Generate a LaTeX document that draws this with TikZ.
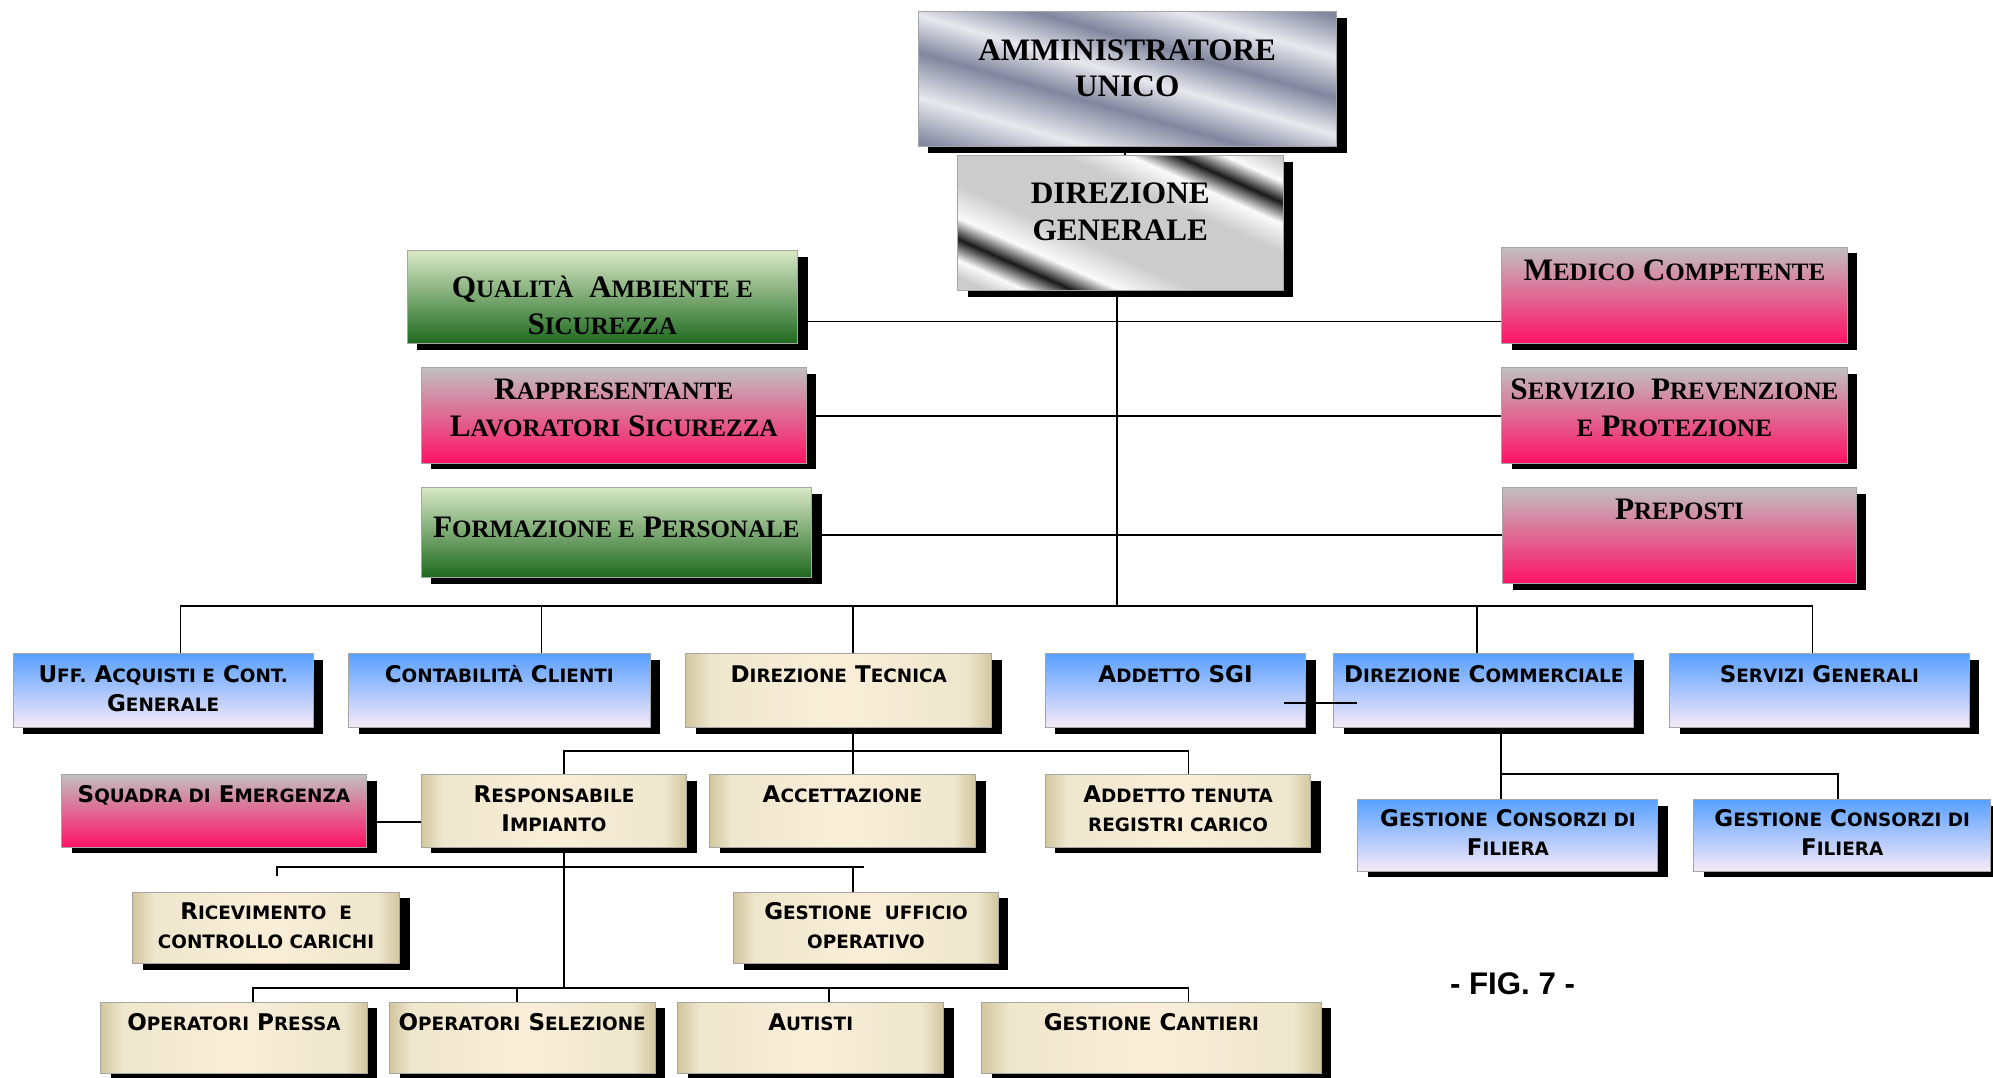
\documentclass[tikz,border=0pt]{standalone}
\usepackage{fontspec}
\setmainfont{Liberation Serif}
\newfontfamily\boxfont{DejaVu Sans}
\newfontfamily\figfont{Liberation Sans}
\usetikzlibrary{shadows,backgrounds}

\definecolor{blueT}{RGB}{88,160,255}
\definecolor{blueB}{RGB}{248,234,248}
\definecolor{pinkT}{RGB}{192,192,192}
\definecolor{pinkB}{RGB}{255,18,100}
\definecolor{greenT}{RGB}{216,232,198}
\definecolor{greenM}{RGB}{150,190,115}
\definecolor{greenB}{RGB}{30,105,30}
\definecolor{beigeE}{RGB}{210,198,158}
\definecolor{beigeM}{RGB}{238,230,205}
\definecolor{beigeC}{RGB}{250,238,216}
\definecolor{metD}{RGB}{128,134,158}
\definecolor{metL}{RGB}{232,232,238}
\definecolor{chrG}{RGB}{204,204,204}
\definecolor{chrW}{RGB}{250,250,250}
\definecolor{chrK}{RGB}{25,25,25}

\pgfdeclarehorizontalshading{beigesh}{100bp}{color(0bp)=(beigeE); color(25bp)=(beigeE); color(29bp)=(beigeM); color(50bp)=(beigeC); color(71bp)=(beigeM); color(75bp)=(beigeE); color(100bp)=(beigeE)}
\pgfdeclarehorizontalshading{metalsh}{100bp}{color(0bp)=(metL); color(20bp)=(metD); color(31bp)=(metL); color(42bp)=(metD); color(51bp)=(metL); color(60bp)=(metD); color(70bp)=(metL); color(80bp)=(metD); color(100bp)=(metL)}
\pgfdeclarehorizontalshading{chromesh}{100bp}{color(0bp)=(chrG); color(20bp)=(chrG); color(24bp)=(chrW); color(29bp)=(chrK); color(34bp)=(chrW); color(42bp)=(chrG); color(60bp)=(chrG); color(67bp)=(chrW); color(72bp)=(chrK); color(77bp)=(chrW); color(82bp)=(chrG); color(100bp)=(chrG)}

% one picture pixel
\newdimen\pxu \pxu=0.2mm
\newcommand{\sm}[1]{\scalebox{0.8}{#1}}
% width, height, first baseline, text
\newcommand{\boxtxt}[4]{\parbox[t][#2\pxu][t]{#1\pxu}{\centering\vspace*{\dimexpr#3\pxu-\baselineskip\relax}\prevdepth=0pt #4\par}}

\tikzset{
  orgbox/.style={draw=gray!70, line width=0.4pt, inner sep=0pt, anchor=north west,
    drop shadow={shadow xshift=1.6mm, shadow yshift=-1mm, opacity=1, fill=black}},
  serifbox/.style={orgbox, font=\bfseries\fontsize{14}{16.4}\selectfont},
  sansbox/.style={orgbox, font=\boxfont\bfseries\fontsize{10.3}{13}\selectfont},
  metalbox/.style={serifbox, shading=metalsh, shading angle=74},
  chromebox/.style={serifbox, shading=chromesh, shading angle=66},
  greenbox/.style={serifbox, top color=greenT, middle color=greenM, bottom color=greenB},
  pinkbox/.style={serifbox, top color=pinkT, bottom color=pinkB},
  pinksbox/.style={sansbox, top color=pinkT, bottom color=pinkB},
  bluebox/.style={sansbox, top color=blueT, bottom color=blueB},
  beigebox/.style={sansbox, shading=beigesh},
  conn/.style={draw=black, line width=0.8pt},
  figlabel/.style={font=\figfont\bfseries\fontsize{14}{16}\selectfont}
}

\begin{document}
\begin{tikzpicture}[x=0.2mm, y=-0.2mm]
\useasboundingbox (0,0) rectangle (1568,848);

% top
\node[metalbox] (amm) at (722,9) {\boxtxt{329}{106}{38}{AMMINISTRATORE\\UNICO}};
\node[chromebox] (dg) at (753,122) {\boxtxt{256}{106}{38}{DIREZIONE\\GENERALE}};

% staff
\node[greenbox] (qa) at (320,197) {\boxtxt{307}{73}{37}{Q\sm{UALITÀ}\ \ A\sm{MBIENTE E}\\S\sm{ICUREZZA}}};
\node[pinkbox] (rls) at (331,289) {\boxtxt{303}{75}{25}{R\sm{APPRESENTANTE}\\L\sm{AVORATORI} S\sm{ICUREZZA}}};
\node[greenbox] (fp) at (331,383) {\boxtxt{307}{71}{39.5}{F\sm{ORMAZIONE E} P\sm{ERSONALE}}};
\node[pinkbox] (mc) at (1181,194) {\boxtxt{272}{76}{26}{M\sm{EDICO} C\sm{OMPETENTE}}};
\node[pinkbox] (spp) at (1181,289) {\boxtxt{272}{75}{25}{S\sm{ERVIZIO}\ \ P\sm{REVENZIONE}\\\sm{E} P\sm{ROTEZIONE}}};
\node[pinkbox] (pre) at (1182,383) {\boxtxt{278}{76}{25}{P\sm{REPOSTI}}};

% second row
\node[bluebox] (uff) at (10,514) {\boxtxt{236}{58}{22.5}{U\sm{FF.} A\sm{CQUISTI E} C\sm{ONT.}\\G\sm{ENERALE}}};
\node[bluebox] (cc) at (274,514) {\boxtxt{237}{58}{22.5}{C\sm{ONTABILITÀ} C\sm{LIENTI}}};
\node[beigebox] (dt) at (539,514) {\boxtxt{241}{58}{22.5}{D\sm{IREZIONE} T\sm{ECNICA}}};
\node[bluebox] (sgi) at (822,514) {\boxtxt{205}{58}{22.5}{A\sm{DDETTO} SGI}};
\node[bluebox] (dc) at (1049,514) {\boxtxt{236}{58}{22.5}{D\sm{IREZIONE} C\sm{OMMERCIALE}}};
\node[bluebox] (sg) at (1313,514) {\boxtxt{236}{58}{22.5}{S\sm{ERVIZI} G\sm{ENERALI}}};

% third row
\node[pinksbox] (se) at (48,609) {\boxtxt{240}{57}{22}{S\sm{QUADRA DI} E\sm{MERGENZA}}};
\node[beigebox] (ri) at (331,609) {\boxtxt{209}{57}{22}{R\sm{ESPONSABILE}\\I\sm{MPIANTO}}};
\node[beigebox] (acc) at (558,609) {\boxtxt{209}{57}{22}{A\sm{CCETTAZIONE}}};
\node[beigebox] (atr) at (822,609) {\boxtxt{209}{57}{22}{A\sm{DDETTO TENUTA}\\\sm{REGISTRI CARICO}}};
\node[bluebox] (gc1) at (1068,628.5) {\boxtxt{236}{56.5}{21}{G\sm{ESTIONE} C\sm{ONSORZI DI}\\F\sm{ILIERA}}};
\node[bluebox] (gc2) at (1332,628.5) {\boxtxt{234}{56.5}{21}{G\sm{ESTIONE} C\sm{ONSORZI DI}\\F\sm{ILIERA}}};

% fourth row
\node[beigebox] (rcc) at (104,701.5) {\boxtxt{210}{56.5}{21.5}{R\sm{ICEVIMENTO\ \ E}\\\sm{CONTROLLO CARICHI}}};
\node[beigebox] (guo) at (577,701.5) {\boxtxt{208}{56.5}{21.5}{G\sm{ESTIONE\ \ UFFICIO}\\\sm{OPERATIVO}}};

% last row
\node[beigebox] (opp) at (79,788) {\boxtxt{209.5}{56.5}{22}{O\sm{PERATORI} P\sm{RESSA}}};
\node[beigebox] (ops) at (306,788) {\boxtxt{209}{56.5}{22}{O\sm{PERATORI} S\sm{ELEZIONE}}};
\node[beigebox] (aut) at (533,788) {\boxtxt{209}{56.5}{22}{A\sm{UTISTI}}};
\node[beigebox] (gca) at (772,788) {\boxtxt{267}{56.5}{22}{G\sm{ESTIONE} C\sm{ANTIERI}}};

\node[figlabel] (fig) at (1190,774) {- FIG. 7 -};

\begin{scope}[on background layer]
  \coordinate (top) at (885,0);
  \coordinate (trunk) at (879,477);
  \draw[conn] (amm.south -| top) -- (dg.north -| top);
  \draw[conn] (dg.south -| trunk) -- (trunk);
  % staff lines
  \coordinate (l1) at (0,253);
  \coordinate (l2) at (0,327);
  \coordinate (l3) at (0,421);
  \draw[conn] (qa.east |- l1) -- (mc.west |- l1);
  \draw[conn] (rls.east |- l2) -- (spp.west |- l2);
  \draw[conn] (fp.east |- l3) -- (pre.west |- l3);
  % main bus
  \coordinate (busL) at (142,477);
  \coordinate (busR) at (1426,477);
  \draw[conn] (busL) -- (busR);
  \foreach \n/\x in {uff/142, cc/426, dt/671, dc/1162, sg/1426} {
    \coordinate (d\n) at (\x,477);
    \draw[conn] (d\n) -- (d\n |- \n.north);
  }
  % direzione tecnica
  \coordinate (dtb) at (671,591);
  \coordinate (sbL) at (444,591);
  \coordinate (sbR) at (935,591);
  \draw[conn] (dt.south -| dtb) -- (acc.north -| dtb);
  \draw[conn] (sbL |- ri.north) -- (sbL) -- (sbR) -- (sbR |- atr.north);
  \coordinate (sl) at (0,647);
  \draw[conn] (se.east |- sl) -- (ri.west |- sl);
  % responsabile impianto
  \coordinate (rib) at (444,777);
  \draw[conn] (ri.south -| rib) -- (rib);
  \coordinate (b4L) at (218,682);
  \coordinate (b4s) at (218,689);
  \coordinate (b4R) at (680,682);
  \coordinate (b4d) at (671,682);
  \draw[conn] (b4s) -- (b4L) -- (b4R);
  \draw[conn] (b4d) -- (b4d |- guo.north);
  \coordinate (b5L) at (199,777);
  \coordinate (b5R) at (935,777);
  \draw[conn] (b5L |- opp.north) -- (b5L) -- (b5R) -- (b5R |- gca.north);
  \foreach \n/\x in {ops/406.5, aut/652} {
    \coordinate (e\n) at (\x,777);
    \draw[conn] (e\n) -- (e\n |- \n.north);
  }
  % direzione commerciale
  \coordinate (dcb) at (1181,609);
  \coordinate (dcR) at (1446,609);
  \draw[conn] (dc.south -| dcb) -- (gc1.north -| dcb);
  \draw[conn] (dcb) -- (dcR) -- (dcR |- gc2.north);
\end{scope}

\coordinate (sgiL) at (1010,553);
\coordinate (sgiR) at (1068,553);
\draw[conn] (sgiL) -- (sgiR);
\end{tikzpicture}
\end{document}
